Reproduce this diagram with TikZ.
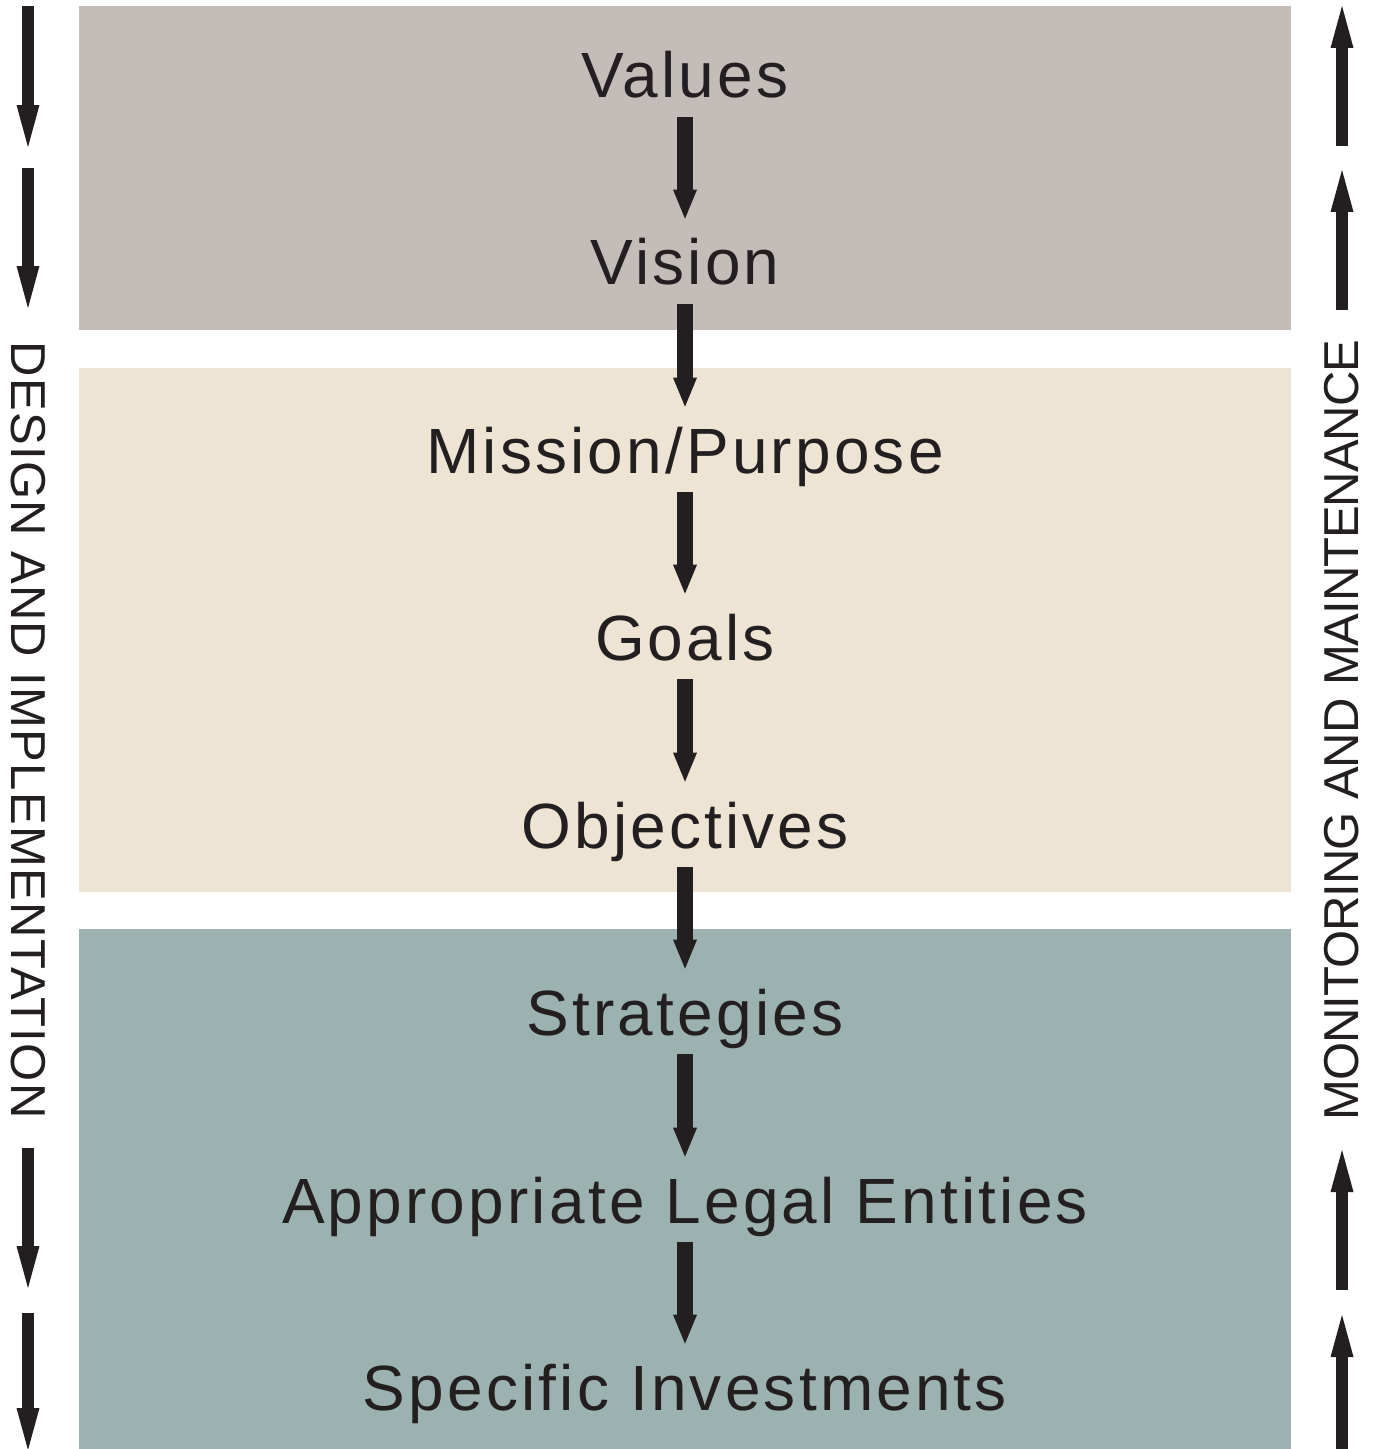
\documentclass[tikz,border=0pt]{standalone}
\usepackage{fontspec}
\setmainfont{Liberation Sans}
\newfontfamily\stepfont[LetterSpace=5]{Liberation Sans}
\newfontfamily\designfont[LetterSpace=2.8]{Liberation Sans}
\newfontfamily\monitorfont[LetterSpace=-2.2]{Liberation Sans}
\usetikzlibrary{arrows.meta}

\definecolor{ink}{HTML}{231F20}
\definecolor{valueband}{HTML}{C4BCB9}
\definecolor{missionband}{HTML}{EDE4D3}
\definecolor{strategyband}{HTML}{9BB2B0}

\tikzset{
  stepnode/.style={anchor=base,inner sep=0pt,text height=1.32cm,text depth=0.38cm,
    text=ink,font=\stepfont\fontsize{36.4}{40}\selectfont},
  flow/.style={draw=ink,line width=0.32cm,
    -{Triangle[width=0.48cm,length=0.58cm,line width=0pt]}},
  sideflow/.style={draw=ink,line width=0.25cm,
    -{Triangle[width=0.46cm,length=0.84cm,line width=0pt]}},
  sidelabel/.style={text=ink,inner sep=0pt,font=\fontsize{27.9}{30}\selectfont}
}

\begin{document}
\begin{tikzpicture}[x=0.02cm,y=-0.02cm]
\useasboundingbox (0,0) rectangle (1374,1449);

% the three bands
\fill [valueband]    (79,6)   rectangle (1291,330);
\fill [missionband]  (79,368) rectangle (1291,892);
\fill [strategyband] (79,929) rectangle (1291,1449);

% steps, top to bottom
\node [stepnode] (values)      at (685,98)   {Values};
\node [stepnode] (vision)      at (685,285)  {Vision};
\node [stepnode] (mission)     at (685,473)  {Mission/Purpose};
\node [stepnode] (goals)       at (685,660)  {Goals};
\node [stepnode] (objectives)  at (685,848)  {Objectives};
\node [stepnode] (strategies)  at (685,1035) {Strategies};
\node [stepnode] (entities)    at (685,1223) {Appropriate Legal Entities};
\node [stepnode] (investments) at (685,1410) {Specific Investments};

\draw [flow] (values)     -- (vision);
\draw [flow] (vision)     -- (mission);
\draw [flow] (mission)    -- (goals);
\draw [flow] (goals)      -- (objectives);
\draw [flow] (objectives) -- (strategies);
\draw [flow] (strategies) -- (entities);
\draw [flow] (entities)   -- (investments);

% side labels
\node [sidelabel,rotate=-90] (design)  at (28,730)
  {\designfont DESIGN AND IMPLEMENTATION};
\node [sidelabel,rotate=90]  (monitor) at (1342,730)
  {\monitorfont MONITORING AND MAINTENANCE};

% side arrows: down on the left, up on the right
\coordinate (down1a) at (28,6);    \coordinate (down1b) at (28,147);
\coordinate (down2a) at (28,168);  \coordinate (down2b) at (28,308);
\coordinate (down3a) at (28,1148); \coordinate (down3b) at (28,1288);
\coordinate (down4a) at (28,1313); \coordinate (down4b) at (28,1450);
\draw [sideflow] (down1a) -- (down1b);
\draw [sideflow] (down2a) -- (down2b);
\draw [sideflow] (down3a) -- (down3b);
\draw [sideflow] (down4a) -- (down4b);

\coordinate (up1a) at (1342,146);  \coordinate (up1b) at (1342,6);
\coordinate (up2a) at (1342,310);  \coordinate (up2b) at (1342,170);
\coordinate (up3a) at (1342,1290); \coordinate (up3b) at (1342,1150);
\coordinate (up4a) at (1342,1449); \coordinate (up4b) at (1342,1315);
\draw [sideflow] (up1a) -- (up1b);
\draw [sideflow] (up2a) -- (up2b);
\draw [sideflow] (up3a) -- (up3b);
\draw [sideflow] (up4a) -- (up4b);
\end{tikzpicture}
\end{document}
